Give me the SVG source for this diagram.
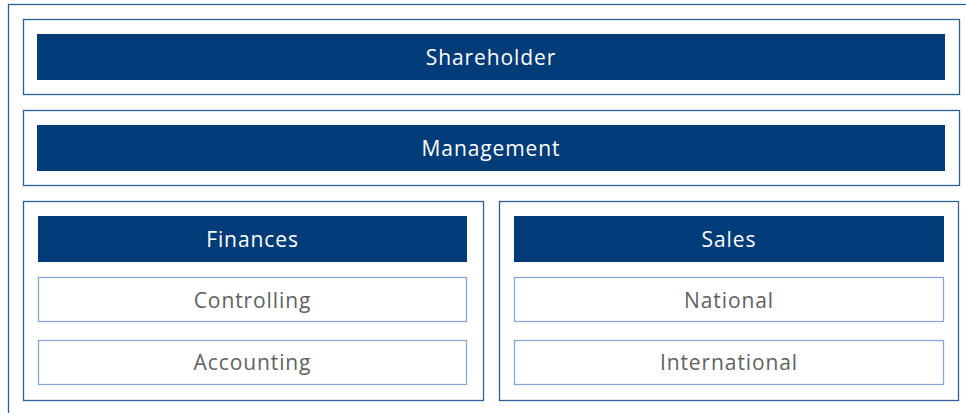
<svg xmlns="http://www.w3.org/2000/svg" width="966" height="413" viewBox="0 0 966 413">
<style>
.frame{fill:none;stroke:#2f5f95;stroke-width:1.3}
.bar{fill:#003c78}
.sub{fill:#fff;stroke:#8ba6d6;stroke-width:1.3}
.t{font-family:"Open Sans","Noto Sans",sans-serif;font-size:21px;text-anchor:middle;dominant-baseline:central;letter-spacing:0.9px}
.w{fill:#fff}
.g{fill:#616161}
</style>
<rect width="966" height="413" fill="#fff"/>
<g id="outer"><rect class="frame" x="8.5" y="4.5" width="970" height="420"/></g>
<g id="shareholder">
<rect class="frame" x="23.5" y="19.5" width="936" height="75"/>
<rect class="bar" x="37" y="34" width="908" height="46"/>
<text class="t w" x="491" y="56.5">Shareholder</text>
</g>
<g id="management">
<rect class="frame" x="23.5" y="110.5" width="936" height="75"/>
<rect class="bar" x="37" y="125" width="908" height="46"/>
<text class="t w" x="491" y="147.5">Management</text>
</g>
<g id="finances">
<rect class="frame" x="23.5" y="201.5" width="460" height="199"/>
<rect class="bar" x="38" y="216" width="429" height="46"/>
<text class="t w" x="252.5" y="238.5">Finances</text>
</g>
<g id="controlling">
<rect class="sub" x="38.5" y="277.5" width="428" height="44"/>
<text class="t g" x="252.5" y="299.5">Controlling</text>
</g>
<g id="accounting">
<rect class="sub" x="38.5" y="340.5" width="428" height="44"/>
<text class="t g" x="252.5" y="361.5">Accounting</text>
</g>
<g id="sales">
<rect class="frame" x="499.5" y="201.5" width="459" height="199"/>
<rect class="bar" x="514" y="216" width="430" height="46"/>
<text class="t w" x="729" y="238.5">Sales</text>
</g>
<g id="national">
<rect class="sub" x="514.5" y="277.5" width="429" height="44"/>
<text class="t g" x="729" y="299.5">National</text>
</g>
<g id="international">
<rect class="sub" x="514.5" y="340.5" width="429" height="44"/>
<text class="t g" x="729" y="361.5">International</text>
</g>
<g id="connectors"></g>
</svg>
